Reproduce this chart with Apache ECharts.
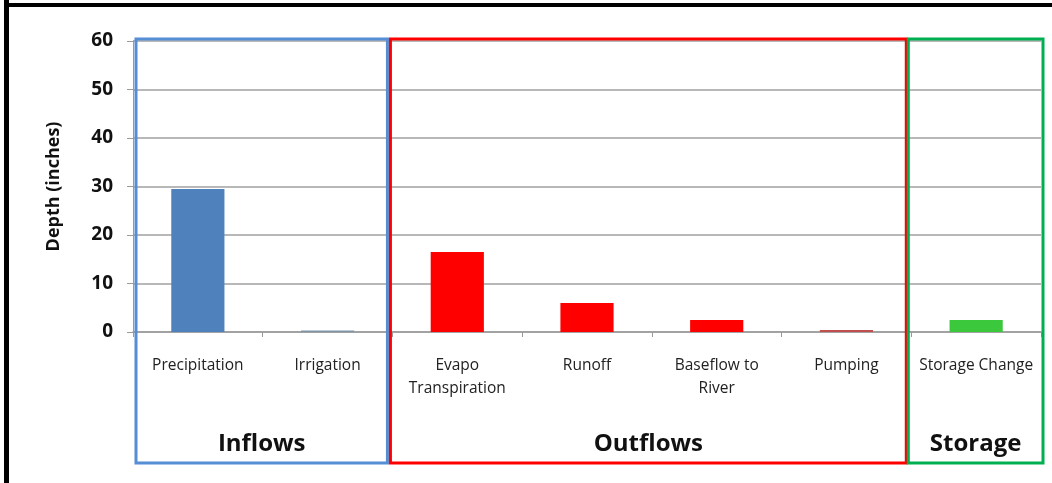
<!DOCTYPE html>
<html>
<head>
<meta charset="utf-8">
<style>
  html, body { margin: 0; padding: 0; background: #fff; }
  #main { width: 1052px; height: 483px; }
</style>
<script src="https://cdn.jsdelivr.net/npm/echarts@6/dist/echarts.min.js"></script>
</head>
<body>
<div id="main"></div>
<script>
// water budget components, depth in inches
const categories = ['Precipitation', 'Irrigation', 'Evapo\nTranspiration', 'Runoff', 'Baseflow to\nRiver', 'Pumping', 'Storage Change'];
const depths = [29.5, 0.3, 16.5, 6.0, 2.5, 0.4, 2.5];
const yTicks = [0, 10, 20, 30, 40, 50, 60];

// groups drawn as frames: name, first and last category index
const groupNames = ['Inflows', 'Outflows', 'Storage'];
const groupFirst = [0, 2, 6];
const groupLast = [1, 5, 6];

const barColors = ['#4F81BD', '#7F96A8', '#FF0000', '#FF0000', '#FF0000', '#C0504D', '#3CC83C'];
const groupColors = ['#558ED5', '#FF0000', '#00B050'];

const chart = echarts.init(document.getElementById('main'));

const option = {
  animation: false,
  backgroundColor: '#fff',
  grid: { left: 133, right: 11, top: 41, bottom: 151 },
  xAxis: {
    type: 'category',
    data: categories,
    axisLine: { lineStyle: { color: '#9a9a9a', width: 1.5 } },
    axisTick: { show: true, length: 5, lineStyle: { color: '#9a9a9a' } },
    axisLabel: {
      color: '#222',
      fontFamily: 'Open Sans',
      fontSize: 15.5,
      lineHeight: 23,
      margin: 22,
      interval: 0
    }
  },
  yAxis: {
    type: 'value',
    min: yTicks[0],
    max: yTicks[yTicks.length - 1],
    interval: 10,
    name: 'Depth (inches)',
    nameLocation: 'middle',
    nameGap: 70,
    nameTextStyle: { fontFamily: 'Open Sans', fontWeight: 'bold', fontSize: 18, color: '#111' },
    axisLine: { show: true, lineStyle: { color: '#9a9a9a' } },
    axisTick: { show: true, length: 6, lineStyle: { color: '#9a9a9a' } },
    axisLabel: { fontFamily: 'Open Sans', fontWeight: 'bold', fontSize: 19, color: '#111', margin: 20 },
    splitLine: { lineStyle: { color: '#a0a0a0', width: 1.5 } }
  },
  series: [{
    type: 'bar',
    barWidth: '41%',
    data: depths.map((v, i) => ({ value: v, itemStyle: { color: barColors[i] } }))
  }]
};

chart.setOption(option);

// frames around the groups, placed from the category axis
const half = chart.convertToPixel({ xAxisIndex: 0 }, 1) - chart.convertToPixel({ xAxisIndex: 0 }, 0);
const leftAdj = [3, -2, -3];
const rightAdj = [-5, -5, 2];
const boxTop = 39, boxBottom = 463;
const graphics = [
  // black frame of the screenshot
  { type: 'rect', shape: { x: 4, y: 0, width: 5, height: 483 }, style: { fill: '#000' } },
  { type: 'rect', shape: { x: 4, y: 3, width: 1048, height: 4 }, style: { fill: '#000' } }
];
groupNames.forEach((name, g) => {
  const x0 = chart.convertToPixel({ xAxisIndex: 0 }, groupFirst[g]) - half / 2 + leftAdj[g];
  const x1 = chart.convertToPixel({ xAxisIndex: 0 }, groupLast[g]) + half / 2 + rightAdj[g];
  graphics.push({
    type: 'rect',
    z: 100,
    shape: { x: x0, y: boxTop, width: x1 - x0, height: boxBottom - boxTop },
    style: { fill: 'none', stroke: groupColors[g], lineWidth: 3 }
  });
  graphics.push({
    type: 'text',
    z: 100,
    x: (x0 + x1) / 2,
    y: 444,
    style: {
      text: name,
      fill: '#111',
      font: 'bold 24px "Open Sans"',
      align: 'center',
      verticalAlign: 'middle'
    }
  });
});
chart.setOption({ graphic: graphics });
</script>
</body>
</html>
